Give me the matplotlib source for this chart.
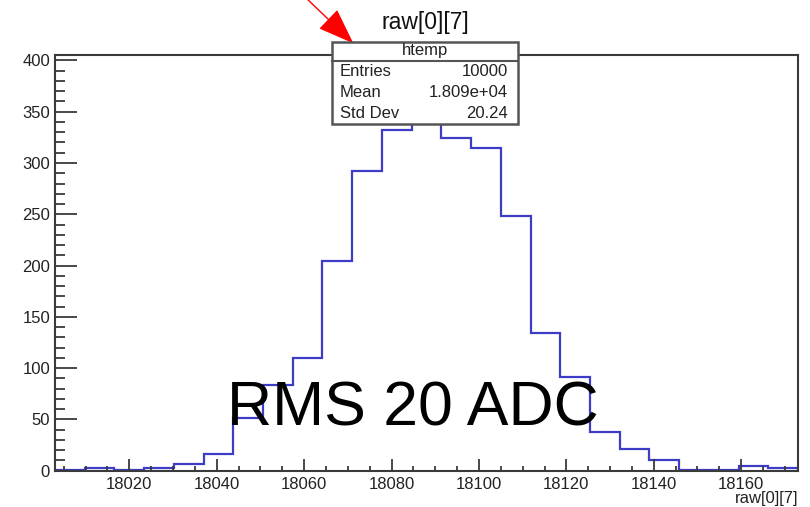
"""ROOT-style histogram of raw[0][7] pedestal values."""

import matplotlib

matplotlib.use("Agg")

import matplotlib.pyplot as plt
import numpy as np
from matplotlib.patches import Rectangle
from matplotlib.lines import Line2D
from matplotlib.ticker import MultipleLocator


BIN_LOW = 18003.0
BIN_WIDTH = 6.8
BIN_COUNTS = [
  1, 3, 1, 3, 7, 16, 51, 84, 110, 204, 292, 332, 386,
  324, 315, 248, 134, 91, 38, 21, 10, 1, 1, 5, 3,
]
STATS_LABELS = ["Entries", "Mean", "Std Dev"]
STATS_VALUES = ["10000", "1.809e+04", "20.24"]
TITLE = "raw[0][7]"
NOTE = "RMS 20 ADC"

W, H = 810, 507
FONT = ["Liberation Sans", "DejaVu Sans"]
LINE_BLUE = "#3c3cc6"
FRAME = "#3a3a3a"


def fx(px: float) -> float:
  return px / W


def fy(py: float) -> float:
  return 1 - py / H


def main() -> None:
  plt.rcParams["font.family"] = FONT
  edges = BIN_LOW + BIN_WIDTH * np.arange(len(BIN_COUNTS) + 1)

  fig = plt.figure(figsize=(W / 100, H / 100), dpi=100, facecolor="white")
  ax = fig.add_axes([fx(55), fy(470.7), fx(798) - fx(55), fy(55) - fy(470.7)])

  ax.stairs(BIN_COUNTS, edges, color=LINE_BLUE, lw=1.6)
  ax.set_xlim(edges[0], edges[-1])
  ax.set_ylim(0, max(BIN_COUNTS) * 1.05)

  ax.xaxis.set_major_locator(MultipleLocator(20))
  ax.xaxis.set_minor_locator(MultipleLocator(5))
  ax.yaxis.set_major_locator(MultipleLocator(50))
  ax.yaxis.set_minor_locator(MultipleLocator(10))
  ax.tick_params(axis="both", which="both", direction="in", color=FRAME,
                 labelcolor="#222222", labelsize=12, width=1.3)
  ax.tick_params(axis="x", which="major", length=8.6, pad=4.5)
  ax.tick_params(axis="x", which="minor", length=3.8)
  ax.tick_params(axis="y", which="major", length=15.8, pad=3.6)
  ax.tick_params(axis="y", which="minor", length=7.2)
  for spine in ax.spines.values():
    spine.set_color(FRAME)
    spine.set_linewidth(1.5)

  fig.text(fx(798), fy(499), TITLE, ha="right", va="center",
           fontsize=12, color="#222222")
  fig.text(fx(425), fy(23), TITLE, ha="center", va="center",
           fontsize=16.5, color="#111111")

  # stats box, drawn over the frame like ROOT's TPaveStats
  box_l, box_r, box_t, box_b = 331.7, 518.3, 41.7, 124
  fig.add_artist(Rectangle(
    (fx(box_l), fy(box_b)), fx(box_r) - fx(box_l), fy(box_t) - fy(box_b),
    transform=fig.transFigure, facecolor="white", edgecolor="#555555",
    lw=1.8, zorder=5,
  ))
  fig.add_artist(Line2D([fx(box_l), fx(box_r)], [fy(60.7), fy(60.7)],
                        transform=fig.transFigure, color="#555555", lw=1.5,
                        zorder=6))
  fig.text(fx(425), fy(50.7), "htemp", ha="center", va="center",
           fontsize=12, color="#222222", zorder=7)
  for row, (label, value) in enumerate(zip(STATS_LABELS, STATS_VALUES)):
    y = fy(71.7 + 20.8 * row)
    fig.text(fx(340), y, label, ha="left", va="center", fontsize=12,
             color="#222222", zorder=7)
    fig.text(fx(508.3), y, value, ha="right", va="center", fontsize=12,
             color="#222222", zorder=7)

  fig.text(fx(227), fy(425), NOTE, ha="left", va="baseline",
           fontsize=45, color="black", zorder=8)

  ax.annotate(
    "", xy=(353.3, H - 43.3), xytext=(304, H + 4),
    xycoords="figure pixels", textcoords="figure pixels",
    arrowprops=dict(arrowstyle="-|>,head_length=2.3,head_width=0.85",
                    mutation_scale=10, color="red", lw=1.0,
                    shrinkA=0, shrinkB=0),
    annotation_clip=False, zorder=9,
  )

  fig.savefig("out.png", dpi=100, facecolor="white")
  plt.close(fig)


if __name__ == "__main__":
  main()
